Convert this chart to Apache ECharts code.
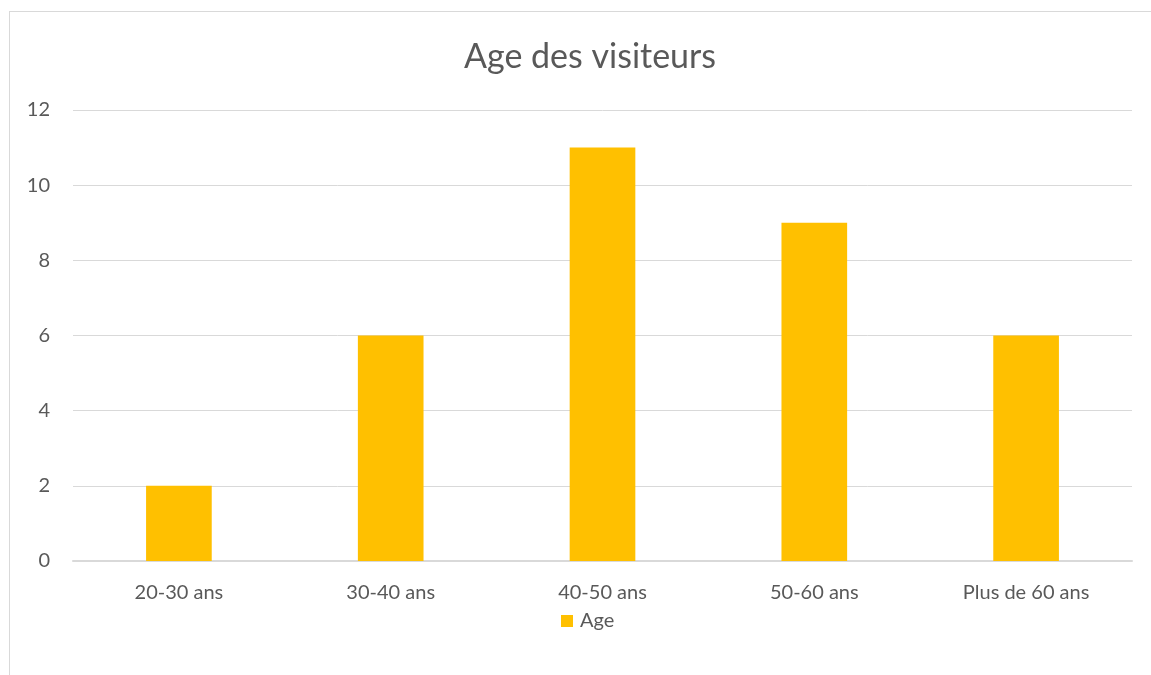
<!DOCTYPE html>
<html>
<head>
<meta charset="utf-8">
<script src="https://cdn.jsdelivr.net/npm/echarts@6/dist/echarts.min.js"></script>
<style>
  html, body { margin: 0; padding: 0; background: #fff; overflow: hidden; }
  #frame { position: absolute; left: 9px; top: 11px; width: 1300px; height: 800px; border: 1px solid #d9d9d9; }
  #chart { position: absolute; left: 0; top: 0; width: 1151px; height: 675px; }
</style>
</head>
<body>
<div id="frame"></div>
<div id="chart"></div>
<script>
var categories = ['20-30 ans', '30-40 ans', '40-50 ans', '50-60 ans', 'Plus de 60 ans'];
var ageValues = [2, 6, 11, 9, 6];
var seriesName = 'Age';

var myChart = echarts.init(document.getElementById('chart'));
var txt = '#595959';
var option = {
    backgroundColor: 'transparent',
    textStyle: { fontFamily: 'Lato, "Open Sans", sans-serif' },
    title: {
        text: 'Age des visiteurs',
        left: 585,
        top: 35,
        textAlign: 'center',
        textStyle: { color: txt, fontSize: 34, fontWeight: 'normal' }
    },
    legend: {
        data: [{ name: seriesName, icon: 'rect' }],
        left: 556,
        top: 606,
        itemWidth: 12,
        itemHeight: 12,
        itemGap: 4,
        textStyle: { color: txt, fontSize: 20, padding: [0, 0, 0, 2] }
    },
    grid: { left: 73, right: 19, top: 110, bottom: 114, containLabel: false },
    xAxis: {
        type: 'category',
        data: categories,
        axisLine: { lineStyle: { color: '#d9d9d9', width: 2 } },
        axisTick: { show: false },
        axisLabel: { color: txt, fontSize: 20, margin: 22 }
    },
    yAxis: {
        type: 'value',
        min: 0,
        max: 12,
        interval: 2,
        axisLine: { show: false },
        axisTick: { show: false },
        splitLine: { lineStyle: { color: '#d9d9d9', width: 1 } },
        axisLabel: { color: txt, fontSize: 20, margin: 23 }
    },
    series: [{
        name: seriesName,
        type: 'bar',
        data: ageValues,
        barWidth: '31%',
        itemStyle: { color: '#ffc000' }
    }]
};
myChart.setOption(option);
</script>
</body>
</html>
